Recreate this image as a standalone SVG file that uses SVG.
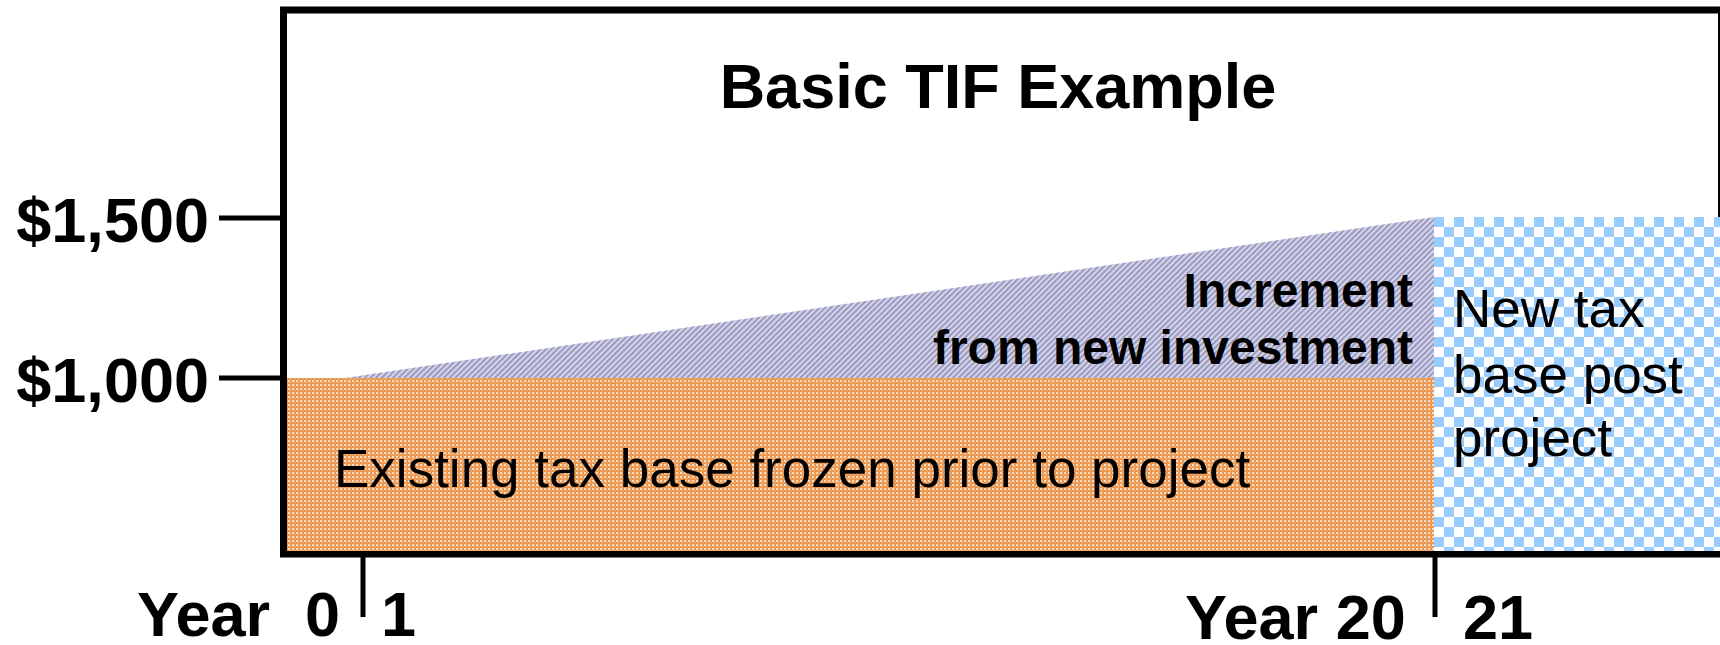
<svg xmlns="http://www.w3.org/2000/svg" width="1720" height="645" viewBox="0 0 1720 645">
<style>
text{font-family:"Liberation Sans",Arial,sans-serif;fill:#000}
.b{font-weight:bold}
.ax{stroke:#000;fill:none}
</style>
<defs>
<pattern id="orange" width="4" height="4" patternUnits="userSpaceOnUse">
<rect width="4" height="4" fill="#EC9850"/>
<rect x="0" y="0" width="2" height="2" fill="#FADCC0"/>
<rect x="2" y="2" width="1" height="1" fill="#F4C090"/>
</pattern>
<pattern id="hatch" width="4" height="4" patternUnits="userSpaceOnUse" patternTransform="rotate(45)">
<rect width="4" height="4" fill="#DCDCEA"/>
<rect width="2.2" height="4" fill="#9A9AC4"/>
</pattern>
<pattern id="checker" x="1434" y="217" width="20" height="20" patternUnits="userSpaceOnUse">
<rect width="20" height="20" fill="#FFFFFF"/>
<rect x="0" y="0" width="10" height="10" fill="#99CCFF"/>
<rect x="10" y="10" width="10" height="10" fill="#99CCFF"/>
</pattern>
</defs>
<rect width="1720" height="645" fill="#fff"/>
<g id="frame">
<rect class="ax" x="283.5" y="10" width="1438" height="544" stroke-width="7"/>
</g>
<g id="areas">
<rect id="existing-base" x="287" y="378" width="1147" height="173" fill="url(#orange)"/>
<polygon id="increment" points="345,378 1434,217 1434,378" fill="url(#hatch)"/>
<rect id="new-base" x="1434" y="217" width="286" height="334" fill="url(#checker)"/>
</g>
<g id="ticks">
<line class="ax" x1="219" y1="218" x2="281" y2="218" stroke-width="5"/>
<line class="ax" x1="219" y1="378" x2="281" y2="378" stroke-width="5"/>
<line class="ax" x1="363" y1="556" x2="363" y2="617" stroke-width="5"/>
<line class="ax" x1="1435" y1="556" x2="1435" y2="617" stroke-width="5"/>
</g>
<g id="labels">
<text class="b" x="998" y="108" font-size="63" text-anchor="middle">Basic TIF Example</text>
<text class="b" x="209" y="242" font-size="63" text-anchor="end">$1,500</text>
<text class="b" x="209" y="402" font-size="63" text-anchor="end">$1,000</text>
<text class="b" x="1413" y="307" font-size="48" text-anchor="end">Increment</text>
<text class="b" x="1413" y="364" font-size="48" text-anchor="end">from new investment</text>
<text x="334" y="487" font-size="53">Existing tax base frozen prior to project</text>
<text x="1453" y="327" font-size="53">New tax</text>
<text x="1453" y="393" font-size="53">base post</text>
<text x="1453" y="456" font-size="53">project</text>
<text class="b" x="137" y="636" font-size="63">Year</text>
<text class="b" x="305" y="636" font-size="63">0</text>
<text class="b" x="381" y="636" font-size="63">1</text>
<text class="b" x="1185" y="639" font-size="63">Year 20</text>
<text class="b" x="1463" y="639" font-size="63">21</text>
</g>
</svg>
